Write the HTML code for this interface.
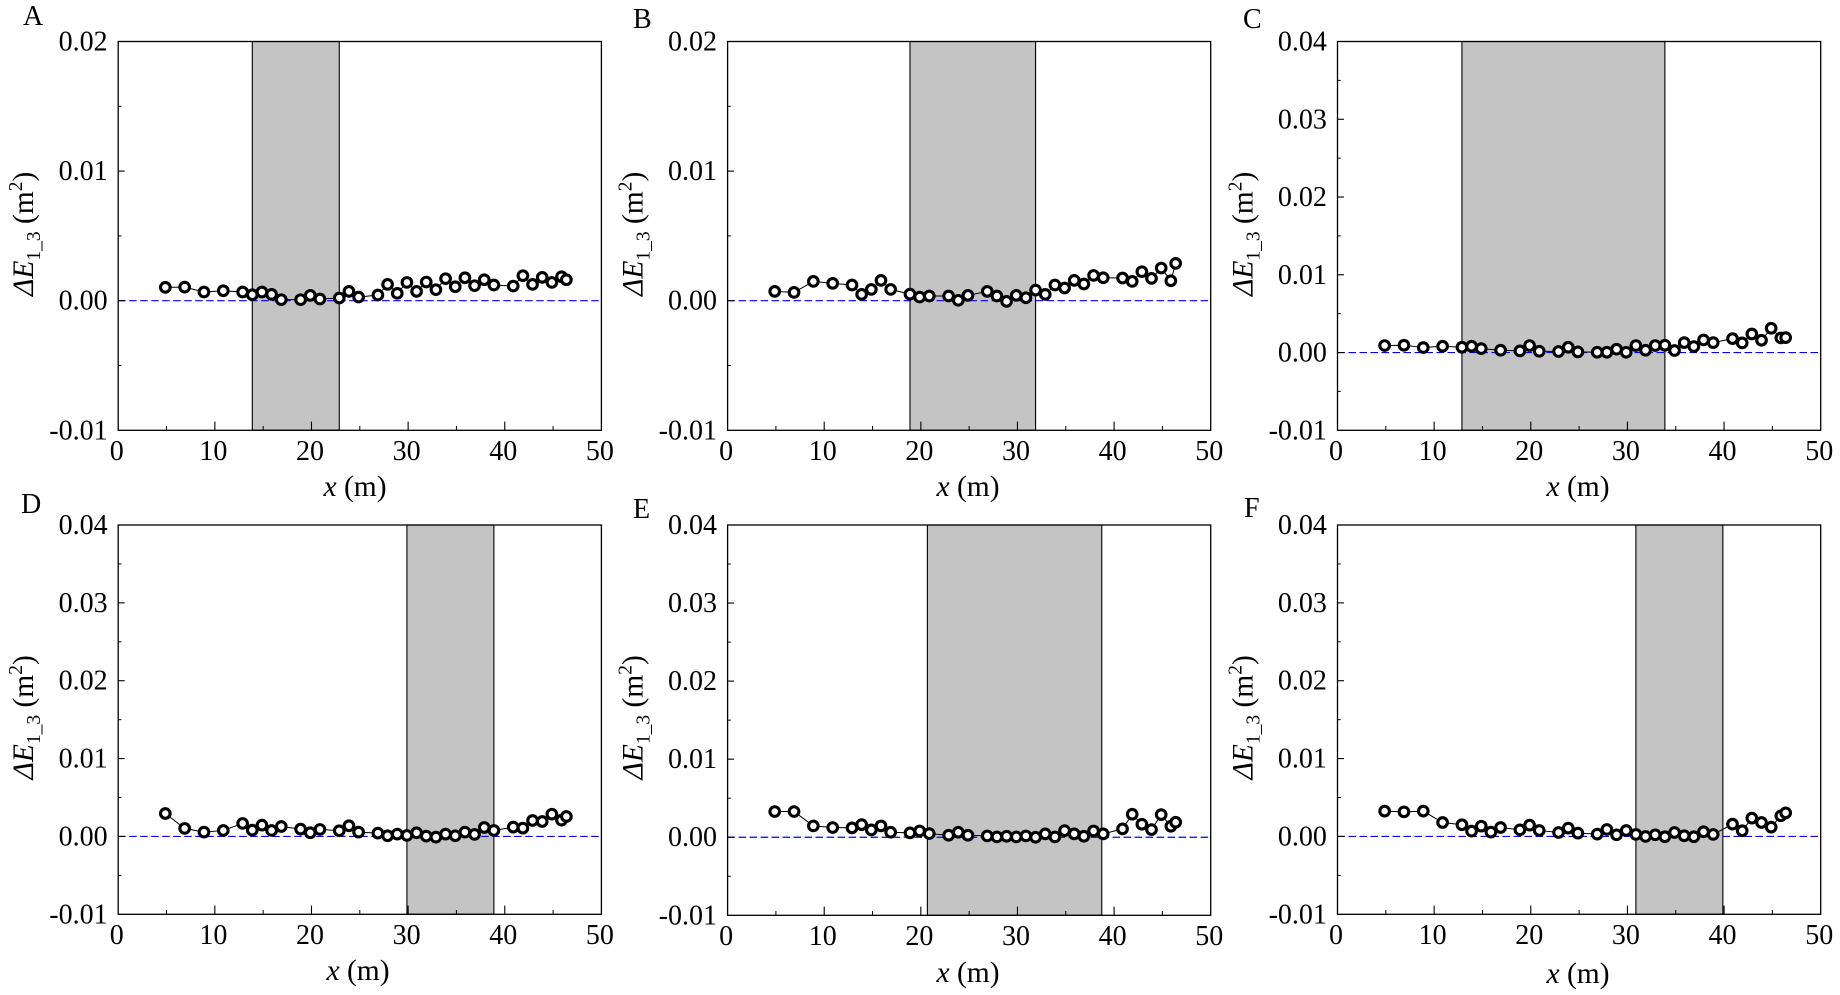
<!DOCTYPE html>
<html lang="en">
<head>
<meta charset="utf-8">
<title>Delta E 1_3 along x, panels A to F</title>
<style>
html,body{margin:0;padding:0;background:#fff;width:1840px;height:995px;overflow:hidden}
svg{display:block;font-family:"Liberation Serif",serif;fill:#000}
</style>
</head>
<body>
<svg id="figure" xmlns="http://www.w3.org/2000/svg" width="1840" height="995" viewBox="0 0 1840 995"></svg>
<script>
// ---- data ----
var positionsFull = [5,7,9,11,13,14,15,16,17,19,20,21,23,24,25,27,28,29,30,31,32,33,34,35,36,37,38,39,41,42,43,44,45,46,46.5];
var positionsC = [5,7,9,11,13,14,15,17,19,20,21,23,24,25,27,28,29,30,31,32,33,34,35,36,37,38,39,41,42,43,44,45,46,46.5];

var valuesA = [0.00103,0.00105,0.00067,0.00077,0.00067,0.00046,0.00067,0.00049,0.00008,0.00008,0.00041,0.00013,0.00021,0.00072,0.00028,0.00044,0.00126,0.00057,0.00141,0.00072,0.00144,0.00085,0.00170,0.00108,0.00177,0.00116,0.00162,0.00121,0.00113,0.00193,0.00126,0.00180,0.00141,0.00185,0.00162];
var valuesB = [0.00072,0.00064,0.00149,0.00134,0.00121,0.00049,0.00087,0.00157,0.00087,0.00051,0.00028,0.00036,0.00036,0.00003,0.00041,0.00072,0.00036,-0.00005,0.00041,0.00023,0.00082,0.00049,0.00121,0.00098,0.00157,0.00129,0.00195,0.00177,0.00175,0.00149,0.00224,0.00172,0.00252,0.00154,0.00288];
var valuesC = [0.00090,0.00094,0.00064,0.00081,0.00068,0.00081,0.00051,0.00030,0.00021,0.00090,0.00017,0.00013,0.00068,0.00009,0.00004,0.00004,0.00043,0.00004,0.00090,0.00030,0.00090,0.00094,0.00026,0.00128,0.00077,0.00162,0.00128,0.00179,0.00124,0.00239,0.00158,0.00312,0.00188,0.00192];
var valuesD = [0.00295,0.00103,0.00056,0.00077,0.00167,0.00081,0.00145,0.00077,0.00128,0.00094,0.00047,0.00090,0.00073,0.00137,0.00056,0.00043,0.00009,0.00030,0.00013,0.00047,0.00004,-0.00009,0.00030,0.00009,0.00056,0.00026,0.00115,0.00077,0.00120,0.00107,0.00205,0.00192,0.00286,0.00209,0.00256];
var valuesE = [0.00329,0.00329,0.00145,0.00124,0.00120,0.00162,0.00094,0.00145,0.00064,0.00056,0.00081,0.00047,0.00026,0.00064,0.00026,0.00017,0.00004,0.00013,0.00004,0.00017,0.00000,0.00043,0.00004,0.00085,0.00043,0.00013,0.00081,0.00043,0.00107,0.00295,0.00167,0.00098,0.00290,0.00141,0.00192];
var valuesF = [0.00325,0.00316,0.00325,0.00179,0.00150,0.00068,0.00132,0.00056,0.00115,0.00085,0.00145,0.00077,0.00051,0.00107,0.00043,0.00030,0.00090,0.00021,0.00077,0.00026,0.00000,0.00021,-0.00004,0.00051,0.00009,-0.00004,0.00060,0.00026,0.00158,0.00073,0.00235,0.00179,0.00120,0.00265,0.00303];

var bandA = [14,23];
var bandB = [19,32];
var bandC = [13,34];
var bandD = [30,39];
var bandE = [20.8,38.85];
var bandF = [31,40];

var xTickLabels = ['0','10','20','30','40','50'];
var xMinorTicks = [5,15,25,35,45];
var yTickLabelsSmall = ['-0.01','0.00','0.01','0.02'];
var yTickLabelsLarge = ['-0.01','0.00','0.01','0.02','0.03','0.04'];
var yMinorSmall = [-0.005,0.005,0.015];
var yMinorLarge = [-0.005,0.005,0.015,0.025,0.035];

// ---- panel layout ----
var panels = [
 {id:'a',letter:'A',xs:positionsFull,ys:valuesA,band:bandA,yTicks:yTickLabelsSmall,yMinor:yMinorSmall,box:[118.2,41.5,601.4,430.3],letterPos:[23,25],xLabelPos:[355,496],xTickBase:460},
 {id:'b',letter:'B',xs:positionsFull,ys:valuesB,band:bandB,yTicks:yTickLabelsSmall,yMinor:yMinorSmall,box:[727.6,41.5,1210.7,430.3],letterPos:[633,28],xLabelPos:[968,496],xTickBase:460},
 {id:'c',letter:'C',xs:positionsC,ys:valuesC,band:bandC,yTicks:yTickLabelsLarge,yMinor:yMinorLarge,box:[1337.5,41.5,1820.7,430.3],letterPos:[1243,28],xLabelPos:[1578,496],xTickBase:460},
 {id:'d',letter:'D',xs:positionsFull,ys:valuesD,band:bandD,yTicks:yTickLabelsLarge,yMinor:yMinorLarge,box:[118.2,525,601.4,914.3],letterPos:[21,513],xLabelPos:[358,980],xTickBase:944},
 {id:'e',letter:'E',xs:positionsFull,ys:valuesE,band:bandE,yTicks:yTickLabelsLarge,yMinor:yMinorLarge,box:[727.6,525,1210.7,915.3],letterPos:[633,518],xLabelPos:[968,982],xTickBase:945},
 {id:'f',letter:'F',xs:positionsFull,ys:valuesF,band:bandF,yTicks:yTickLabelsLarge,yMinor:yMinorLarge,box:[1337.5,525,1820.7,914.3],letterPos:[1244,517],xLabelPos:[1578,983],xTickBase:944}
];
var markShift = -1.2;

var NS = 'http://www.w3.org/2000/svg';
var root = document.getElementById('figure');

function make(parent, tag, attrs, text) {
  var el = document.createElementNS(NS, tag);
  for (var k in attrs) { el.setAttribute(k, attrs[k]); }
  if (text !== undefined) { el.textContent = text; }
  parent.appendChild(el);
  return el;
}

panels.forEach(function (p) {
  var L = p.box[0], T = p.box[1], R = p.box[2], B = p.box[3];
  var yMin = parseFloat(p.yTicks[0]);
  var yMax = parseFloat(p.yTicks[p.yTicks.length - 1]);
  function sx(v) { return L + (v - 0) / 50 * (R - L); }
  function sy(v) { return B - (v - yMin) / (yMax - yMin) * (B - T); }
  function mx(v) { return sx(v) + markShift; }

  var g = make(root, 'g', {});
  
  

  var letter = make(g, 'text', {x: p.letterPos[0], y: p.letterPos[1], 'font-size': 28}, p.letter);
  
  

  var band = make(g, 'rect', {x: mx(p.band[0]), y: T, width: mx(p.band[1]) - mx(p.band[0]), height: B - T, fill: '#c4c4c4', stroke: '#000', 'stroke-width': 1.1});
  
  

  var zero = make(g, 'line', {x1: L, x2: R, y1: sy(0), y2: sy(0), stroke: '#0000ff', 'stroke-width': 1.2, 'stroke-dasharray': '7.5 3.5'});
  
  

  var frame = make(g, 'rect', {x: L, y: T, width: R - L, height: B - T, fill: 'none', stroke: '#000', 'stroke-width': 1.3});
  
  

  var xAxis = make(g, 'g', {});
  
  
  xTickLabels.forEach(function (lab) {
    var v = parseFloat(lab);
    if (v > 0 && v < 50) {
      var t = make(xAxis, 'line', {x1: sx(v), x2: sx(v), y1: B, y2: B - 8.7, stroke: '#000', 'stroke-width': 1.1});
      
      
    }
    var tl = make(xAxis, 'text', {x: sx(v) - 1.5, y: p.xTickBase, 'font-size': 28, 'text-anchor': 'middle'}, lab);
    
    
  });
  xMinorTicks.forEach(function (v) {
    var t = make(xAxis, 'line', {x1: sx(v), x2: sx(v), y1: B, y2: B - 4.3, stroke: '#000', 'stroke-width': 1});
    
    
  });
  var xTitle = make(xAxis, 'text', {x: p.xLabelPos[0], y: p.xLabelPos[1], 'font-size': 29.5, 'text-anchor': 'middle'});
  
  
  make(xTitle, 'tspan', {'font-style': 'italic'}, 'x');
  make(xTitle, 'tspan', {}, ' (m)');

  var yAxis = make(g, 'g', {});
  
  
  p.yTicks.forEach(function (lab) {
    var v = parseFloat(lab);
    if (v > yMin && v < yMax) {
      var t = make(yAxis, 'line', {x1: L, x2: L + 6.5, y1: sy(v), y2: sy(v), stroke: '#000', 'stroke-width': 1.1});
      
      
    }
    var tl = make(yAxis, 'text', {x: L - 10.6, y: sy(v) + 9, 'font-size': 28, 'text-anchor': 'end'}, lab);
    
    
  });
  p.yMinor.forEach(function (v) {
    var t = make(yAxis, 'line', {x1: L, x2: L + 3.2, y1: sy(v), y2: sy(v), stroke: '#000', 'stroke-width': 1});
    
    
  });
  var baseY = T + 254.5;
  var yTitle = make(yAxis, 'text', {transform: 'translate(' + (L - 85) + ' ' + baseY + ') rotate(-90)', 'font-size': 29.5});
  
  
  make(yTitle, 'tspan', {'font-style': 'italic'}, 'ΔE');
  make(yTitle, 'tspan', {'font-size': 19.5, dy: 7}, '1_3');
  make(yTitle, 'tspan', {dy: -7}, ' (m');
  make(yTitle, 'tspan', {'font-size': 19.5, dy: -11}, '2');
  make(yTitle, 'tspan', {dy: 11}, ')');

  var pts = p.xs.map(function (x, i) { return mx(x).toFixed(2) + ',' + sy(p.ys[i]).toFixed(2); }).join(' ');
  var series = make(g, 'polyline', {points: pts, fill: 'none', stroke: '#000', 'stroke-width': 1});
  
  

  p.xs.forEach(function (x, i) {
    var c = make(g, 'circle', {cx: mx(x), cy: sy(p.ys[i]), r: 4.8, fill: '#fff', stroke: '#000', 'stroke-width': 3.1});
    
    
  });
});
</script>
</body>
</html>
